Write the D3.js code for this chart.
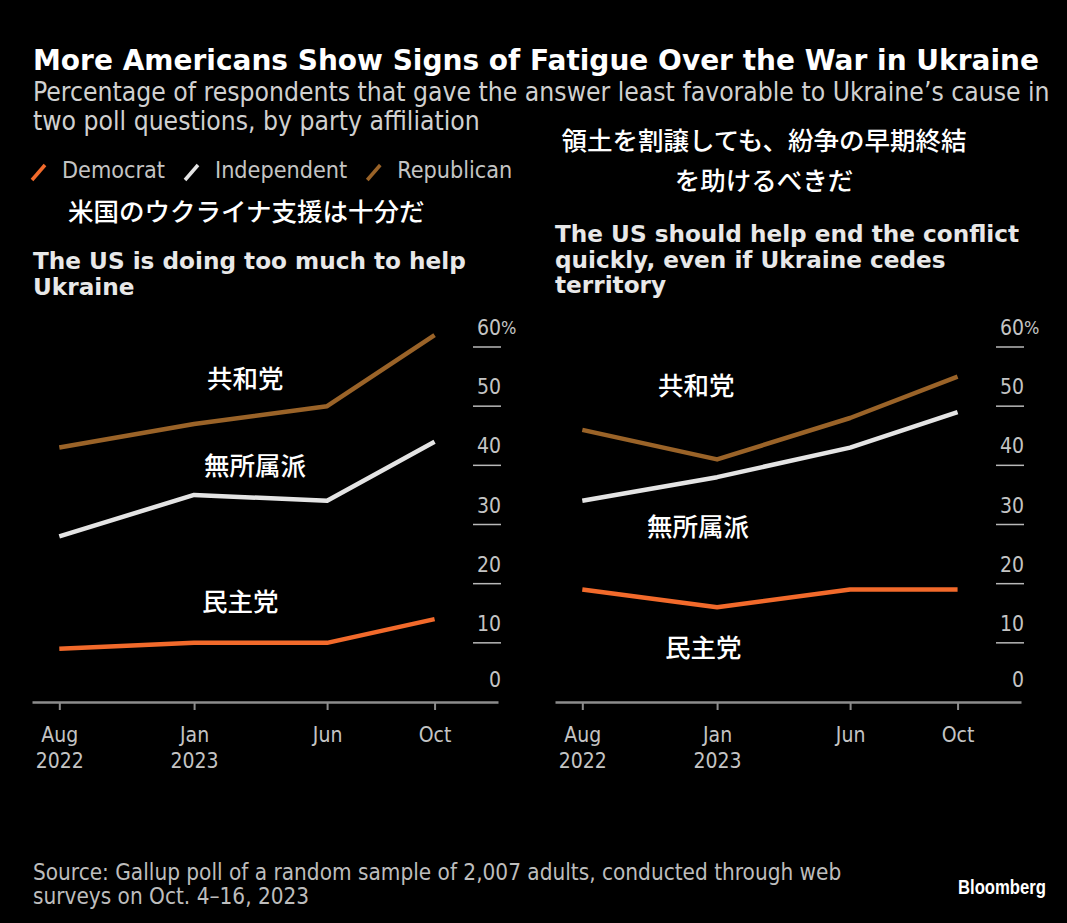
<!DOCTYPE html>
<html>
<head>
<meta charset="utf-8">
<script src="https://cdn.jsdelivr.net/npm/d3@7"></script>
<style>
  body { margin: 0; background: #000; }
  svg { display: block; }
  .cond { font-family: "DejaVu Sans Condensed", "DejaVu Sans", sans-serif; font-stretch: condensed; }
</style>
</head>
<body>
<svg id="chart" width="1067" height="923"></svg>
<script>
// poll dates and tick labels
const dates = ["2022-08-01", "2023-01-01", "2023-06-01", "2023-10-01"];
const tickMonth = ["Aug", "Jan", "Jun", "Oct"];
const tickYear = ["2022", "2023", "", ""];
const yTicks = [0, 10, 20, 30, 40, 50, 60];

const parties = ["Democrat", "Independent", "Republican"];
const partyColors = ["#f26a2b", "#e4e4e4", "#9a6328"];

// "The US is doing too much to help Ukraine"
const tooMuchDem = [9, 10, 10, 14];
const tooMuchInd = [28, 35, 34, 44];
const tooMuchRep = [43, 47, 50, 62];

// "The US should help end the conflict quickly, even if Ukraine cedes territory"
const cedeDem = [19, 16, 19, 19];
const cedeInd = [34, 38, 43, 49];
const cedeRep = [46, 41, 48, 55];

const parseDate = d3.timeParse("%Y-%m-%d");
const W = 1067, H = 923;

const svg = d3.select("#chart");
svg.append("rect").attr("width", W).attr("height", H).attr("fill", "#000");

// scale a text's font-size so it spans a target width
function fit(sel, target) {
    const w = sel.node().getComputedTextLength();
    const fs = parseFloat(sel.attr("font-size"));
    sel.attr("font-size", fs * target / w);
    return fs * target / w;
}

// Title
const title = svg.append("text")
    .attr("x", 33).attr("y", 70)
    .attr("font-family", "DejaVu Sans").attr("font-weight", "bold")
    .attr("font-size", 26).attr("fill", "#fff")
    .text("More Americans Show Signs of Fatigue Over the War in Ukraine");
fit(title, 1006);

const sub1 = svg.append("text")
    .attr("class", "cond")
    .attr("x", 33).attr("y", 101)
    .attr("font-size", 22).attr("fill", "#d0d0d0")
    .text("Percentage of respondents that gave the answer least favorable to Ukraine\u2019s cause in");
const subSize = fit(sub1, 1017);
svg.append("text")
    .attr("class", "cond")
    .attr("x", 33).attr("y", 129.5)
    .attr("font-size", subSize).attr("fill", "#d0d0d0")
    .text("two poll questions, by party affiliation");

// Legend
const legend = svg.append("g");
let lx = 32;
let legendSize = null;
parties.forEach((p, i) => {
    legend.append("line")
        .attr("x1", lx).attr("y1", 180).attr("x2", lx + 13).attr("y2", 165)
        .attr("stroke", partyColors[i]).attr("stroke-width", 3.5);
    const t = legend.append("text")
        .attr("class", "cond")
        .attr("x", lx + 30).attr("y", 178)
        .attr("font-size", legendSize || 20).attr("fill", "#c4c4c4")
        .text(p);
    if (!legendSize) legendSize = fit(t, 103);
    lx += 30 + t.node().getComputedTextLength() + 20;
});

// Japanese annotations (top)
const jp = { "font-family": "Noto Sans CJK JP", "font-weight": 500, "font-size": 25.5, fill: "#fff" };
function jpText(x, y, txt, anchor) {
    const t = svg.append("text").attr("x", x).attr("y", y).attr("text-anchor", anchor || "start").text(txt);
    Object.entries(jp).forEach(([k, v]) => t.attr(k, v));
    return t;
}
jpText(764, 150, "領土を割譲しても、紛争の早期終結", "middle");
jpText(764, 190, "を助けるべきだ", "middle");
jpText(68, 221, "米国のウクライナ支援は十分だ");

// Panels
const panels = [
    { dx: 0, title: ["The US is doing too much to help", "Ukraine"], titleY: 269,
      series: [tooMuchDem, tooMuchInd, tooMuchRep],
      labels: [[202, 611, "民主党"], [204, 475, "無所属派"], [207, 388, "共和党"]] },
    { dx: 523, title: ["The US should help end the conflict", "quickly, even if Ukraine cedes", "territory"], titleY: 242,
      series: [cedeDem, cedeInd, cedeRep],
      labels: [[665, 657, "民主党"], [647, 536, "無所属派"], [658, 395, "共和党"]] }
];

const y = d3.scaleLinear().domain([0, 60]).range([702, 347]);
let panelTitleSize = null;

panels.forEach((pn, pi) => {
    const g = svg.append("g");
    const x = d3.scaleTime()
        .domain([parseDate("2022-07-01"), parseDate("2023-12-12")])
        .range([32 + pn.dx, 498 + pn.dx]);

    // panel title
    pn.title.forEach((line, li) => {
        const t = g.append("text")
            .attr("x", 33 + pn.dx + (pi ? -1 : 0)).attr("y", pn.titleY + li * 25.5)
            .attr("font-family", "DejaVu Sans").attr("font-weight", "bold")
            .attr("font-size", panelTitleSize || 20).attr("fill", "#e8e8e8")
            .text(line);
        if (!panelTitleSize) panelTitleSize = fit(t, 433);
    });

    // y gridline dashes and labels
    const yr = 501 + pn.dx;
    yTicks.forEach(v => {
        if (v > 0) {
            g.append("line")
                .attr("x1", yr - 28).attr("x2", yr)
                .attr("y1", y(v)).attr("y2", y(v))
                .attr("stroke", "#b8b8b8").attr("stroke-width", 1.5);
        }
        g.append("text")
            .attr("class", "cond")
            .attr("x", yr).attr("y", y(v) - (v === 0 ? 15 : 12))
            .attr("text-anchor", "end")
            .attr("font-size", 21).attr("fill", "#c4c4c4")
            .text(v);
        if (v === 60) {
            g.append("text")
                .attr("class", "cond")
                .attr("x", yr).attr("y", y(v) - 13)
                .attr("font-size", 18).attr("fill", "#c4c4c4")
                .text("%");
        }
    });

    // x axis
    const axis = g.append("g")
        .attr("transform", `translate(0,${y(0)})`)
        .call(d3.axisBottom(x)
            .tickValues(dates.map(parseDate))
            .tickSize(8).tickSizeOuter(0)
            .tickFormat(""));
    axis.select(".domain").attr("stroke", "#8c8c8c").attr("stroke-width", 2.5);
    axis.selectAll(".tick line").attr("stroke", "#8c8c8c").attr("stroke-width", 2);
    axis.selectAll(".tick text").remove();
    axis.selectAll(".tick").each(function (d, i) {
        const t = d3.select(this).append("text")
            .attr("class", "cond")
            .attr("text-anchor", "middle")
            .attr("font-size", 21).attr("fill", "#c4c4c4");
        t.append("tspan").attr("x", 0).attr("y", 40).text(tickMonth[i]);
        if (tickYear[i]) t.append("tspan").attr("x", 0).attr("y", 66).text(tickYear[i]);
    });

    // lines
    const line = d3.line()
        .x((d, i) => x(parseDate(dates[i])))
        .y(d => y(d));
    [2, 1, 0].forEach(si => {
        g.append("path")
            .datum(pn.series[si])
            .attr("d", line)
            .attr("fill", "none")
            .attr("stroke", partyColors[si])
            .attr("stroke-width", 4.5)
            .attr("stroke-linejoin", "round");
    });

    // party labels
    pn.labels.forEach(([lxp, lyp, txt]) => jpText(lxp, lyp, txt));
});

// Footer
const src1 = svg.append("text")
    .attr("class", "cond")
    .attr("x", 33).attr("y", 880)
    .attr("font-size", 19).attr("fill", "#bdbdbd")
    .text("Source: Gallup poll of a random sample of 2,007 adults, conducted through web");
const srcSize = fit(src1, 809);
svg.append("text")
    .attr("class", "cond")
    .attr("x", 33).attr("y", 904)
    .attr("font-size", srcSize).attr("fill", "#bdbdbd")
    .text("surveys on Oct. 4\u201316, 2023");

svg.append("text")
    .attr("x", 958).attr("y", 894)
    .attr("font-family", "'Liberation Sans', sans-serif")
    .attr("font-weight", "bold")
    .attr("font-size", 20).attr("fill", "#fff")
    .attr("textLength", 88).attr("lengthAdjust", "spacingAndGlyphs")
    .text("Bloomberg");
</script>
</body>
</html>
